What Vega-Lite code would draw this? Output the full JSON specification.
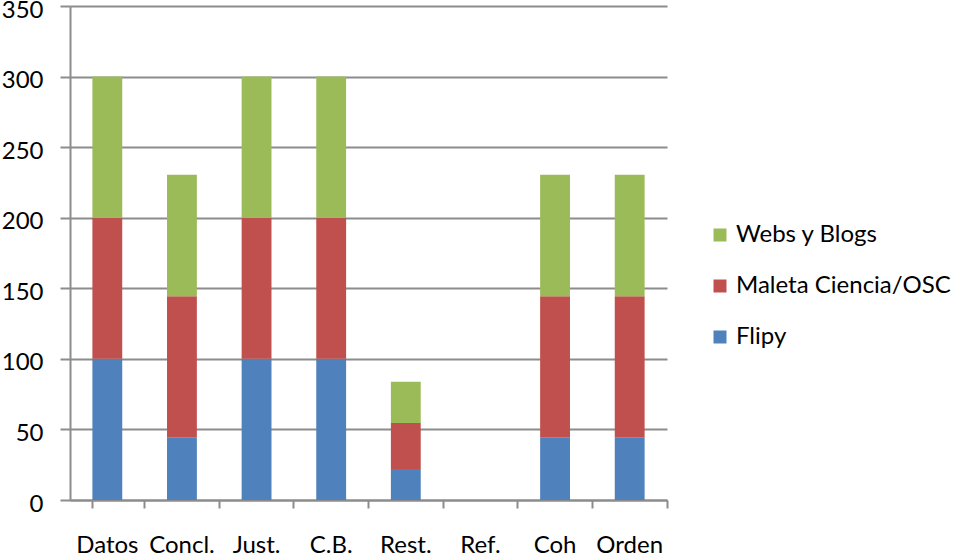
{
  "$schema": "https://vega.github.io/schema/vega-lite/v6.json",
  "width": 597,
  "height": 494,
  "autosize": "none",
  "padding": {"left": 70, "top": 6, "right": 297, "bottom": 58},
  "background": "white",
  "config": {"view": {"stroke": null}, "font": "Lato"},
  "data": {"values": [
    {"cat": "Datos", "serie": "Flipy", "k": 1, "v": 100},
    {"cat": "Datos", "serie": "Maleta Ciencia/OSC", "k": 2, "v": 100},
    {"cat": "Datos", "serie": "Webs y Blogs", "k": 3, "v": 100},
    {"cat": "Concl.", "serie": "Flipy", "k": 1, "v": 44.4},
    {"cat": "Concl.", "serie": "Maleta Ciencia/OSC", "k": 2, "v": 100},
    {"cat": "Concl.", "serie": "Webs y Blogs", "k": 3, "v": 86},
    {"cat": "Just.", "serie": "Flipy", "k": 1, "v": 100},
    {"cat": "Just.", "serie": "Maleta Ciencia/OSC", "k": 2, "v": 100},
    {"cat": "Just.", "serie": "Webs y Blogs", "k": 3, "v": 100},
    {"cat": "C.B.", "serie": "Flipy", "k": 1, "v": 100},
    {"cat": "C.B.", "serie": "Maleta Ciencia/OSC", "k": 2, "v": 100},
    {"cat": "C.B.", "serie": "Webs y Blogs", "k": 3, "v": 100},
    {"cat": "Rest.", "serie": "Flipy", "k": 1, "v": 22},
    {"cat": "Rest.", "serie": "Maleta Ciencia/OSC", "k": 2, "v": 32.5},
    {"cat": "Rest.", "serie": "Webs y Blogs", "k": 3, "v": 29.2},
    {"cat": "Ref.", "serie": "Flipy", "k": 1, "v": 0},
    {"cat": "Ref.", "serie": "Maleta Ciencia/OSC", "k": 2, "v": 0},
    {"cat": "Ref.", "serie": "Webs y Blogs", "k": 3, "v": 0},
    {"cat": "Coh", "serie": "Flipy", "k": 1, "v": 44.4},
    {"cat": "Coh", "serie": "Maleta Ciencia/OSC", "k": 2, "v": 100},
    {"cat": "Coh", "serie": "Webs y Blogs", "k": 3, "v": 86},
    {"cat": "Orden", "serie": "Flipy", "k": 1, "v": 44.4},
    {"cat": "Orden", "serie": "Maleta Ciencia/OSC", "k": 2, "v": 100},
    {"cat": "Orden", "serie": "Webs y Blogs", "k": 3, "v": 86}
  ]},
  "mark": {"type": "bar"},
  "encoding": {
    "x": {
      "field": "cat", "type": "nominal",
      "sort": ["Datos", "Concl.", "Just.", "C.B.", "Rest.", "Ref.", "Coh", "Orden"],
      "scale": {"paddingInner": 0.6, "paddingOuter": 0.3},
      "axis": {
        "title": null, "labelAngle": 0, "labelFontSize": 24, "labelColor": "black",
        "domainColor": "#8c8c8c", "domainWidth": 2, "tickColor": "#8c8c8c", "tickWidth": 2,
        "tickSize": 8, "bandPosition": 1.75, "tickExtra": true, "labelPadding": 25,
        "grid": false, "labelBaseline": "top", "labelLimit": 0
      }
    },
    "y": {
      "field": "v", "type": "quantitative", "stack": "zero",
      "scale": {"domain": [0, 350], "nice": false},
      "axis": {
        "title": null, "values": [0, 50, 100, 150, 200, 250, 300, 350],
        "labelFontSize": 24, "labelColor": "black", "labelPadding": 17, "labelOffset": 4,
        "domainColor": "#8c8c8c", "domainWidth": 2, "tickColor": "#8c8c8c", "tickWidth": 2,
        "tickSize": 10, "gridColor": "#8c8c8c", "gridWidth": 2, "gridOpacity": 1
      }
    },
    "color": {
      "field": "serie", "type": "nominal",
      "scale": {"domain": ["Webs y Blogs", "Maleta Ciencia/OSC", "Flipy"], "range": ["#9BBB59", "#C0504D", "#4F81BD"]},
      "legend": {
        "title": null, "orient": "none", "legendX": 638, "legendY": 217,
        "symbolType": "square", "symbolSize": 169, "symbolStrokeWidth": 0,
        "labelFontSize": 24, "labelColor": "black", "rowPadding": 27, "labelOffset": 4,
        "labelLimit": 0
      }
    },
    "order": {"field": "k", "type": "quantitative", "sort": "ascending"}
  }
}
